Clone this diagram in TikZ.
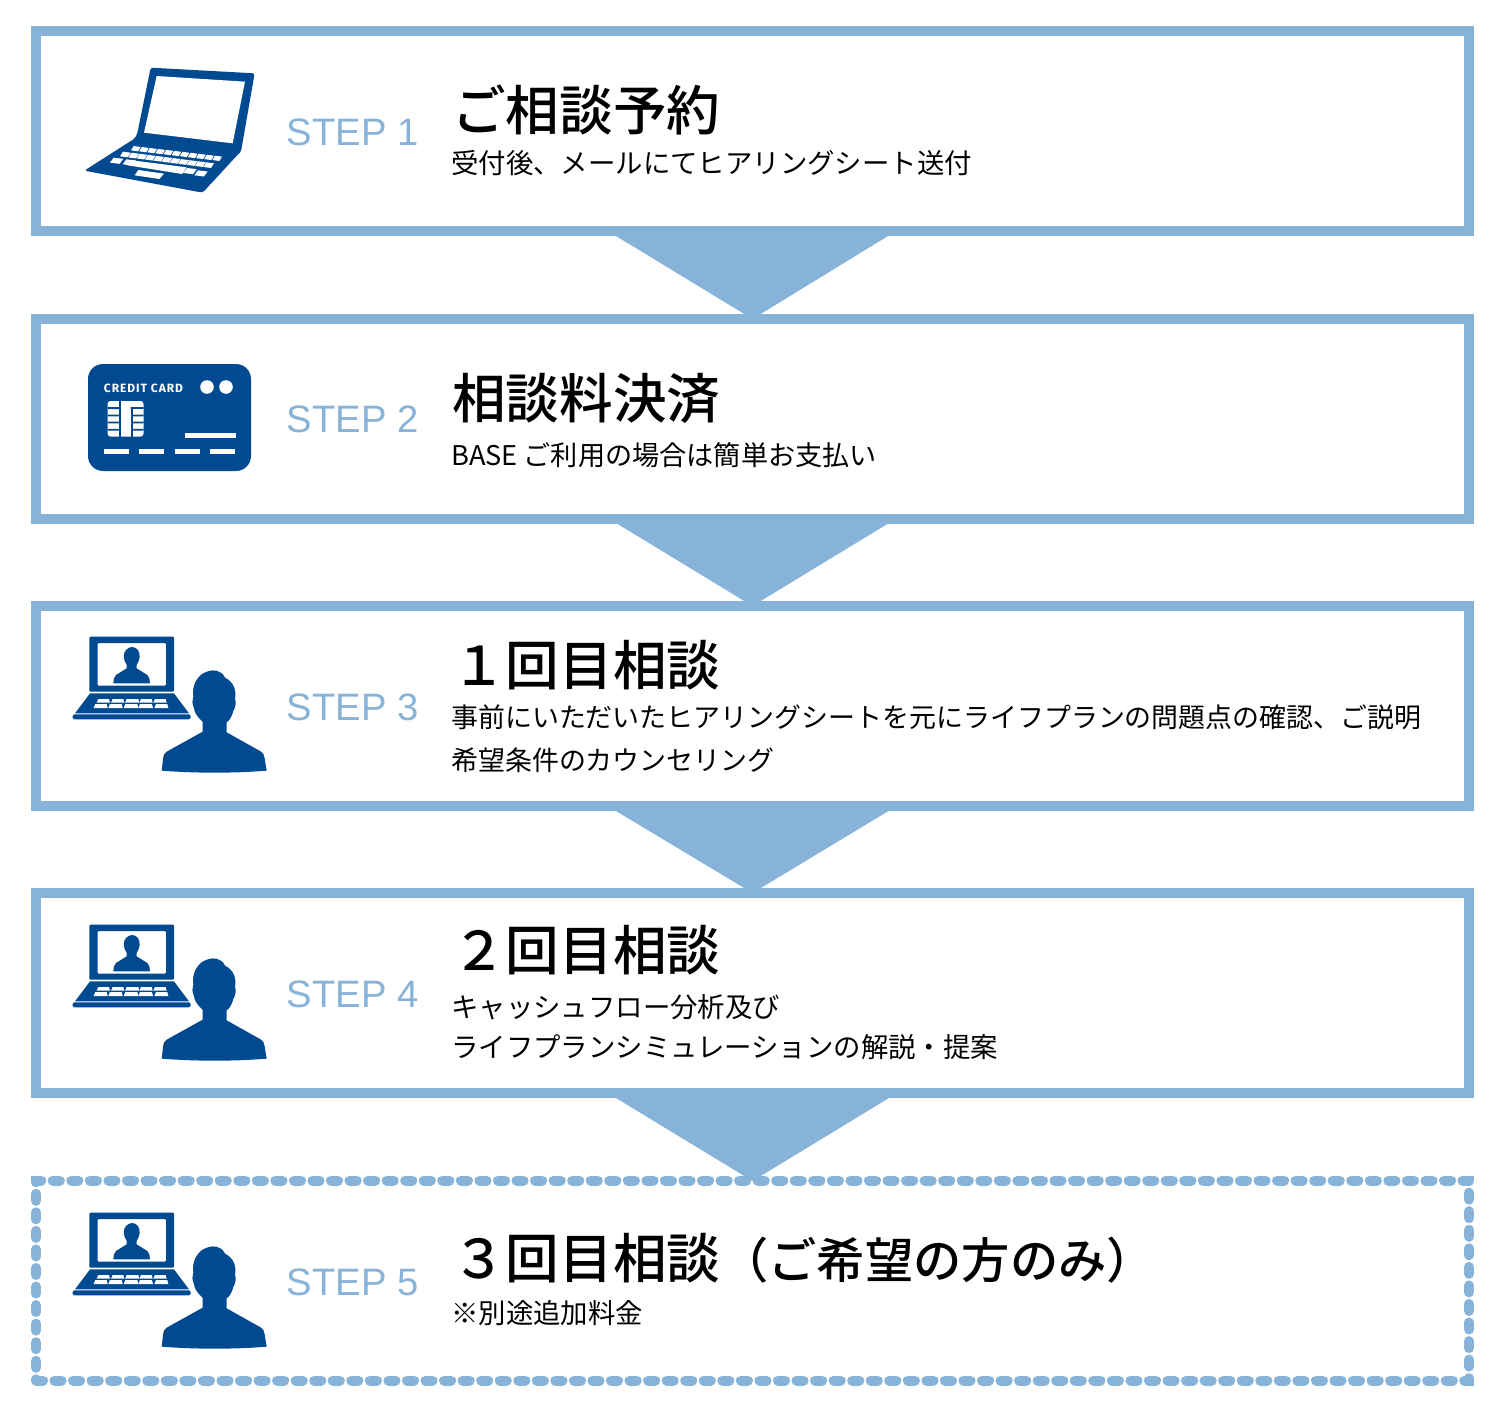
\documentclass[tikz,border=0pt]{standalone}
\usepackage{fontspec}
\usetikzlibrary{calc}
\setmainfont{Noto Sans CJK JP}
\newfontfamily\titlefont{Noto Sans CJK JP Medium}
\newfontfamily\stepfont{Liberation Sans}
\newfontfamily\cardfont[LetterSpace=8]{Fira Sans}
\definecolor{lb}{HTML}{88B3D9}
\definecolor{db}{HTML}{004A92}
\tikzset{
  x=1pt,y=-1pt,
  stepbox/.style={draw=lb,line width=10pt,minimum width=1433pt,minimum height=200pt,inner sep=0pt,outer sep=0pt},
  dashbox/.style={stepbox,line cap=round,dash pattern=on 7pt off 11.55pt},
  chevron/.style={fill=lb,draw=none},
  steplabel/.style={text=lb,anchor=west,inner sep=0pt,font=\stepfont\fontsize{38.2}{44}\selectfont},
  titletext/.style={anchor=west,inner sep=0pt,font=\titlefont\fontsize{53.6}{60}\selectfont},
  subtext/.style={anchor=west,inner sep=0pt,font=\fontsize{27.4}{32}\selectfont},
  subtextb/.style={subtext,font=\fontsize{26.95}{32}\selectfont},
  subtextc/.style={subtext,font=\fontsize{27.15}{32}\selectfont},
  peopleicon/.pic={
    \begin{scope}[scale=1/3]
      % laptop lid
      \fill[db,even odd rule,rounded corners=1pt] (88,35) rectangle (342,200) (113,54) rectangle (318,182);
      % mini person
      \fill[db] (200,120) .. controls (190,105) and (188,85) .. (198,75) .. controls (208,63) and (225,63) .. (234,75)
        .. controls (242,87) and (240,105) .. (230,120) -- (230,130) -- (262,150) .. controls (268,155) and (270,165) .. (270,175)
        -- (160,175) .. controls (160,165) and (162,155) .. (168,150) -- (200,130) -- cycle;
      % base
      \fill[db] (90,205) -- (342,205) -- (387,265) -- (45,265) -- cycle;
      \fill[db,rounded corners=2pt] (38,268) rectangle (392,283);
      % keys
      \foreach \a/\b in {115/147,158/190,200/235,243/275,285/317}
        \fill[white] (\a,222) -- (\b,222) -- (\b+3,233) -- (\a-5,233) -- cycle;
      \foreach \a/\b in {106/140,150/185,196/232,240/276,288/322}
        \fill[white] (\a,237) -- (\b,237) -- (\b+3,249) -- (\a-5,249) -- cycle;
      % large person
      \fill[db] (428,290) .. controls (410,275) and (404,262) .. (402,250) .. controls (396,235) and (396,225) .. (400,215)
        .. controls (395,185) and (410,150) .. (440,140) .. controls (460,132) and (485,135) .. (495,158)
        .. controls (520,170) and (530,195) .. (525,222) .. controls (530,235) and (525,250) .. (520,258)
        .. controls (515,275) and (510,285) .. (500,292) -- (500,322) -- (600,378)
        .. controls (610,385) and (613,390) .. (614,400) -- (620,437) .. controls (520,445) and (410,445) .. (305,437)
        -- (310,395) .. controls (311,388) and (315,384) .. (320,380) -- (428,320) -- cycle;
    \end{scope}
  }
}
\begin{document}
\begin{tikzpicture}
\useasboundingbox (0,0) rectangle (1500,1414);
\fill[white] (0,0) rectangle (1500,1414);
% chevrons first
\coordinate (b1s) at (752.5,231);
\coordinate (b2n) at (752.5,319);
\coordinate (b2s) at (752.5,518);
\coordinate (b3n) at (752.5,606);
\coordinate (b3s) at (752.5,806);
\coordinate (b4n) at (752.5,893);
\coordinate (b4s) at (752.5,1093);
\coordinate (b5n) at (752.5,1181);
\fill[chevron] ($(b1s)+(-136.5,5)$) -- ($(b1s)+(135.5,5)$) -- (b2n) -- cycle;
\fill[chevron] ($(b2s)+(-136.5,5)$) -- ($(b2s)+(136.5,5)$) -- (b3n) -- cycle;
\fill[chevron] ($(b3s)+(-136.5,5)$) -- ($(b3s)+(136,5)$) -- (b4n) -- cycle;
\fill[chevron] ($(b4s)+(-136.5,5)$) -- ($(b4s)+(136.5,5)$) -- (b5n) -- cycle;
% boxes
\node[stepbox] (box1) at (752.5,131) {};
\node[stepbox] (box2) at (752.5,418.5) {};
\node[stepbox] (box3) at (752.5,706) {};
\node[stepbox] (box4) at (752.5,993) {};
\node[dashbox] (box5) at (752.5,1280.5) {};
% step labels
\node[steplabel] (s1) at (286.5,132) {STEP 1};
\node[steplabel] (s2) at (286.5,419) {STEP 2};
\node[steplabel] (s3) at (286.5,707) {STEP 3};
\node[steplabel] (s4) at (286.5,994) {STEP 4};
\node[steplabel] (s5) at (286.5,1282) {STEP 5};
% titles
\node[titletext] (t1) at (452,110) {ご相談予約};
\node[titletext] (t2) at (452,398) {相談料決済};
\node[titletext] (t3) at (452,665) {１回目相談};
\node[titletext] (t4) at (452,950) {２回目相談};
\node[titletext] (t5) at (452,1258) {３回目相談{\fontsize{48.3}{54}\selectfont（ご希望の方のみ）}};
% subtexts
\node[subtext] (d1) at (451,163) {受付後、メールにてヒアリングシート送付};
\node[subtextc] (d2) at (451,455) {BASE ご利用の場合は簡単お支払い};
\node[subtextb] (d3a) at (451,717) {事前にいただいたヒアリングシートを元にライフプランの問題点の確認、ご説明};
\node[subtextb] (d3b) at (451,760) {希望条件のカウンセリング};
\node[subtext] (d4a) at (451,1007) {キャッシュフロー分析及び};
\node[subtext] (d4b) at (451,1047) {ライフプランシミュレーションの解説・提案};
\node[subtext] (d5) at (451,1313) {※別途追加料金};
% laptop icon
\begin{scope}[shift={(60,50)},scale=1/3]
  \fill[db,rounded corners=2.5pt] (272,53) -- (584,70) -- (543,305) -- (535,312) -- (428,428) -- (73,362) -- (225,265) -- (232,250) -- cycle;
  \fill[white] (290,78) -- (555,95) -- (518,280) -- (252,248) -- cycle;
  \foreach \i in {0,...,10}
    \fill[white] (213+\i*24.4,288+\i*2.9) ++(8,0) -- ++(21,3) -- ++(-8,13) -- ++(-21,-3) -- cycle;
  \foreach \i in {0,...,10}
    \fill[white] (180+\i*25,305+\i*3.2) ++(9,0) -- ++(23,3) -- ++(-9,14) -- ++(-23,-3) -- cycle;
  \foreach \ox/\oy in {150/323,188/328,370/354,403/361}
    \fill[white] (\ox,\oy) ++(11,0) -- ++(29,3.5) -- ++(-11,15) -- ++(-29,-3.5) -- cycle;
  \fill[white] (217,331) -- (380,352) -- (367,372) -- (203,346) -- cycle;
  \fill[white] (235,360) -- (312,371) -- (298,387) -- (224,376) -- cycle;
\end{scope}
% card icon
\fill[db,rounded corners=15pt] (88,364) rectangle (251,471);
\node[text=white,inner sep=0pt,font=\cardfont\bfseries\fontsize{12}{14}\selectfont] (cardtext) at (143.5,388) {CREDIT CARD};
\fill[white] (207,387) circle[radius=6.8] (226,387) circle[radius=6.8];
\fill[white,rounded corners=3pt] (107.5,401) rectangle (143.5,436.5);
\fill[db] (119,401) rectangle (121.3,436.5);
\fill[db] (130.7,407) rectangle (132.7,436.5);
\fill[db] (107.5,407.2) rectangle (119.5,409) (107.5,414.5) rectangle (119.5,416.3) (107.5,421.5) rectangle (119.5,423.3) (107.5,428.8) rectangle (119.5,430.6);
\fill[db] (130.7,407) rectangle (143.5,408.8) (132,414.5) rectangle (143.5,416.3) (132,421.5) rectangle (143.5,423.3) (132,428.8) rectangle (143.5,430.6);
\fill[white] (185,433) rectangle (235.5,438);
\foreach \a in {104,139,175,210} \fill[white] (\a,449) rectangle (\a+25.3,454);
% people icons
\pic at (60,625) {peopleicon};
\pic at (60,913) {peopleicon};
\pic at (60,1201) {peopleicon};
\end{tikzpicture}
\end{document}
